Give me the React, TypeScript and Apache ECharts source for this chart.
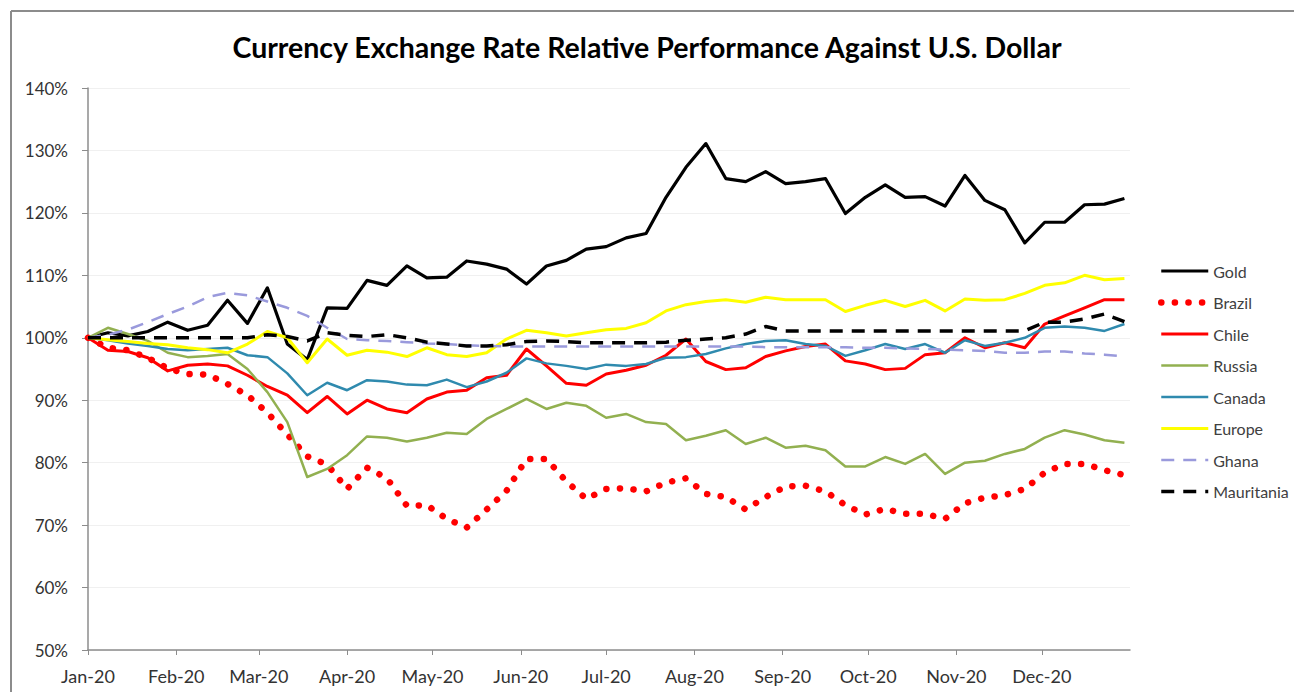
import React, { useEffect, useRef } from "react";
import * as echarts from "echarts";

const weeks = [
  "2020-01-01", "2020-01-08", "2020-01-15", "2020-01-22", "2020-01-29",
  "2020-02-05", "2020-02-12", "2020-02-19", "2020-02-26",
  "2020-03-04", "2020-03-11", "2020-03-18", "2020-03-25",
  "2020-04-01", "2020-04-08", "2020-04-15", "2020-04-22", "2020-04-29",
  "2020-05-06", "2020-05-13", "2020-05-20", "2020-05-27",
  "2020-06-03", "2020-06-10", "2020-06-17", "2020-06-24",
  "2020-07-01", "2020-07-08", "2020-07-15", "2020-07-22", "2020-07-29",
  "2020-08-05", "2020-08-12", "2020-08-19", "2020-08-26",
  "2020-09-02", "2020-09-09", "2020-09-16", "2020-09-23", "2020-09-30",
  "2020-10-07", "2020-10-14", "2020-10-21", "2020-10-28",
  "2020-11-04", "2020-11-11", "2020-11-18", "2020-11-25",
  "2020-12-02", "2020-12-09", "2020-12-16", "2020-12-23", "2020-12-30",
];

const monthNames = ["Jan", "Feb", "Mar", "Apr", "May", "Jun", "Jul", "Aug", "Sep", "Oct", "Nov", "Dec"];

const gold = [
  100, 100.8, 100.3, 101, 102.5, 101.2, 102, 106, 102.3, 108, 99, 96.5, 104.8,
  104.7, 109.2, 108.4, 111.5, 109.6, 109.7, 112.3, 111.8, 111, 108.6, 111.5, 112.4,
  114.2, 114.6, 116, 116.7, 122.5, 127.3, 131.1, 125.5, 125, 126.6, 124.7, 125,
  125.5, 119.9, 122.5, 124.5, 122.5, 122.6, 121.1, 126, 122, 120.5, 115.2, 118.5,
  118.5, 121.3, 121.4, 122.3,
];
const brazil = [
  100, 98.4, 98, 96.8, 95.1, 94.2, 94.1, 92.6, 90.8, 88, 84.5, 81, 79.7,
  75.8, 79.2, 77.5, 73.1, 73.2, 71, 69.6, 72.5, 75.5, 80.6, 80.6, 77,
  74.2, 75.8, 75.9, 75.4, 76.8, 77.5, 75, 74.5, 72.5, 74.5, 76.2, 76.3,
  75.4, 73.2, 71.7, 72.6, 71.8, 71.8, 71, 73.5, 74.4, 74.8, 75.8, 78.4,
  79.8, 79.8, 78.8, 78,
];
const chile = [
  100, 98, 97.8, 96.8, 94.7, 95.6, 95.8, 95.5, 94, 92.2, 90.8, 88, 90.6,
  87.8, 90, 88.6, 88, 90.2, 91.3, 91.6, 93.6, 94, 98.2, 95.5, 92.7,
  92.4, 94.2, 94.8, 95.6, 97.2, 99.8, 96.2, 94.9, 95.2, 97, 97.9, 98.6,
  99, 96.3, 95.8, 94.9, 95.1, 97.3, 97.6, 100, 98.4, 99.2, 98.4, 102.2,
  103.5, 104.8, 106.1, 106.1,
];
const russia = [
  100, 101.6, 100.6, 99.5, 97.6, 96.9, 97.1, 97.4, 95, 91.3, 86.5, 77.7, 79,
  81.2, 84.2, 84, 83.4, 84, 84.8, 84.6, 87, 88.6, 90.2, 88.6, 89.6,
  89.1, 87.2, 87.8, 86.5, 86.2, 83.6, 84.3, 85.2, 83, 84, 82.4, 82.7,
  82, 79.4, 79.4, 80.9, 79.8, 81.4, 78.2, 80, 80.3, 81.4, 82.2, 84,
  85.2, 84.5, 83.6, 83.2,
];
const canada = [
  100, 99.6, 99.1, 98.7, 98.2, 98, 98.2, 98.4, 97.2, 96.9, 94.3, 90.8, 92.8,
  91.6, 93.2, 93, 92.5, 92.4, 93.3, 92.1, 93, 94.4, 96.7, 95.9, 95.5,
  95, 95.7, 95.5, 95.8, 96.8, 96.9, 97.4, 98.3, 99, 99.5, 99.6, 99,
  98.7, 97.1, 98, 99, 98.2, 99, 97.6, 99.6, 98.7, 99.2, 100, 101.6,
  101.8, 101.6, 101.1, 102.2,
];
const europe = [
  100, 99.7, 99.4, 99.1, 98.9, 98.4, 98.1, 97.6, 99, 101, 100, 96, 99.8,
  97.2, 98, 97.7, 97, 98.4, 97.3, 97, 97.6, 99.8, 101.2, 100.8, 100.3,
  100.8, 101.3, 101.5, 102.4, 104.3, 105.3, 105.8, 106.1, 105.7, 106.5, 106.1, 106.1,
  106.1, 104.2, 105.2, 106, 105, 106, 104.3, 106.2, 106, 106.1, 107.1, 108.4,
  108.8, 110, 109.3, 109.5,
];
const ghana = [
  100, 100.5, 101.3, 102.5, 103.8, 105, 106.5, 107.2, 106.8, 105.8, 104.8, 103.5, 101.6,
  99.8, 99.6, 99.5, 99.3, 99.1, 99, 98.8, 98.7, 98.6, 98.6, 98.6, 98.6,
  98.6, 98.6, 98.6, 98.6, 98.6, 98.6, 98.6, 98.6, 98.6, 98.5, 98.5, 98.5,
  98.5, 98.5, 98.4, 98.4, 98.3, 98.2, 98.1, 98, 97.9, 97.6, 97.6, 97.8,
  97.8, 97.5, 97.3, 97,
];
const mauritania = [
  100, 100, 100, 100, 100, 100, 100, 100, 100, 100.5, 100.2, 99.5, 100.8,
  100.4, 100.2, 100.5, 100, 99.3, 99, 98.7, 98.7, 98.9, 99.4, 99.5, 99.4,
  99.2, 99.2, 99.2, 99.2, 99.3, 99.6, 99.8, 100, 100.6, 101.8, 101.1, 101.1,
  101.1, 101.1, 101.1, 101.1, 101.1, 101.1, 101.1, 101.1, 101.1, 101.1, 101.1, 102.5,
  102.5, 103, 103.8, 102.6,
];

const FONT = "Lato, 'Open Sans', sans-serif";

type SeriesDef = {
  name: string;
  values: number[];
  color: string;
  width: number;
  type: any;
  cap?: string;
};

const seriesDefs: SeriesDef[] = [
  { name: "Gold", values: gold, color: "#000000", width: 3.2, type: "solid" },
  { name: "Brazil", values: brazil, color: "#FF0000", width: 6.5, type: [0.1, 13.5], cap: "round" },
  { name: "Chile", values: chile, color: "#FF0000", width: 3, type: "solid" },
  { name: "Russia", values: russia, color: "#92B050", width: 2.5, type: "solid" },
  { name: "Canada", values: canada, color: "#2F8AAE", width: 2.5, type: "solid" },
  { name: "Europe", values: europe, color: "#FFFF00", width: 3, type: "solid" },
  { name: "Ghana", values: ghana, color: "#9A9ADC", width: 2.5, type: [13, 9] },
  { name: "Mauritania", values: mauritania, color: "#000000", width: 3.5, type: [13, 9] },
];

export default function App() {
  const ref = useRef<HTMLDivElement>(null);

  useEffect(() => {
    if (!ref.current) return;
    const chart = echarts.init(ref.current, undefined, { renderer: "svg" });
    const option: any = {
      animation: false,
      backgroundColor: "#ffffff",
      title: {
        text: "Currency Exchange Rate Relative Performance Against U.S. Dollar",
        left: "center",
        top: 27,
        textStyle: { fontFamily: FONT, fontWeight: "bold", fontSize: 28.5, color: "#000" },
      },
      graphic: [
        {
          type: "line",
          shape: { x1: 11, y1: 11, x2: 1294, y2: 11 },
          style: { stroke: "#8c8c8c", lineWidth: 2 },
          silent: true,
        },
        {
          type: "line",
          shape: { x1: 11, y1: 11, x2: 11, y2: 692 },
          style: { stroke: "#8c8c8c", lineWidth: 2 },
          silent: true,
        },
      ],
      grid: { left: 88, right: 164, top: 88, bottom: 42 },
      legend: {
        orient: "vertical",
        left: 1153,
        top: 258,
        itemWidth: 47,
        itemHeight: 14,
        itemGap: 15.5,
        itemStyle: { color: "rgba(0,0,0,0)", borderWidth: 0, borderColor: "rgba(0,0,0,0)" },
        textStyle: { fontFamily: FONT, fontSize: 16, color: "#404040" },
        data: seriesDefs.map((s) => ({
          name: s.name,
          lineStyle: { width: s.width, type: s.type, cap: s.cap || "butt" },
        })),
      },
      xAxis: {
        type: "time",
        min: new Date(2020, 0, 1).getTime(),
        max: new Date(2020, 11, 31, 23).getTime(),
        splitNumber: 12,
        minInterval: 28 * 86400000,
        maxInterval: 31 * 86400000,
        axisLine: { show: true, lineStyle: { color: "#8c8c8c", width: 1.5 } },
        axisTick: { show: true, length: 5, lineStyle: { color: "#8c8c8c" } },
        splitLine: { show: false },
        axisLabel: {
          fontFamily: FONT,
          fontSize: 18,
          color: "#333",
          margin: 17,
          fontWeight: "normal",
          formatter: (val: number) => {
            const d = new Date(val);
            return monthNames[d.getMonth()] + "-20";
          },
        },
      },
      yAxis: {
        type: "value",
        min: 50,
        max: 140,
        interval: 10,
        axisLine: { show: true, lineStyle: { color: "#8c8c8c", width: 1.5 } },
        axisTick: { show: true, length: 6, lineStyle: { color: "#8c8c8c" } },
        splitLine: { show: true, lineStyle: { color: "#f0f0f0", width: 1 } },
        axisLabel: {
          fontFamily: FONT,
          fontSize: 17,
          color: "#333",
          margin: 20,
          formatter: "{value}%",
        },
      },
      series: seriesDefs.map((s) => ({
        name: s.name,
        type: "line",
        showSymbol: false,
        symbol: "none",
        data: weeks.map((w, i) => [w, s.values[i]]),
        itemStyle: { color: s.color },
        lineStyle: {
          color: s.color,
          width: s.width,
          type: s.type,
          cap: s.cap || "butt",
          join: "round",
        },
        emphasis: { disabled: true },
      })),
    };
    chart.setOption(option);
    return () => chart.dispose();
  }, []);

  return (
    <div
      ref={ref}
      style={{ position: "fixed", left: 0, top: 0, width: 1294, height: 692 }}
    />
  );
}
